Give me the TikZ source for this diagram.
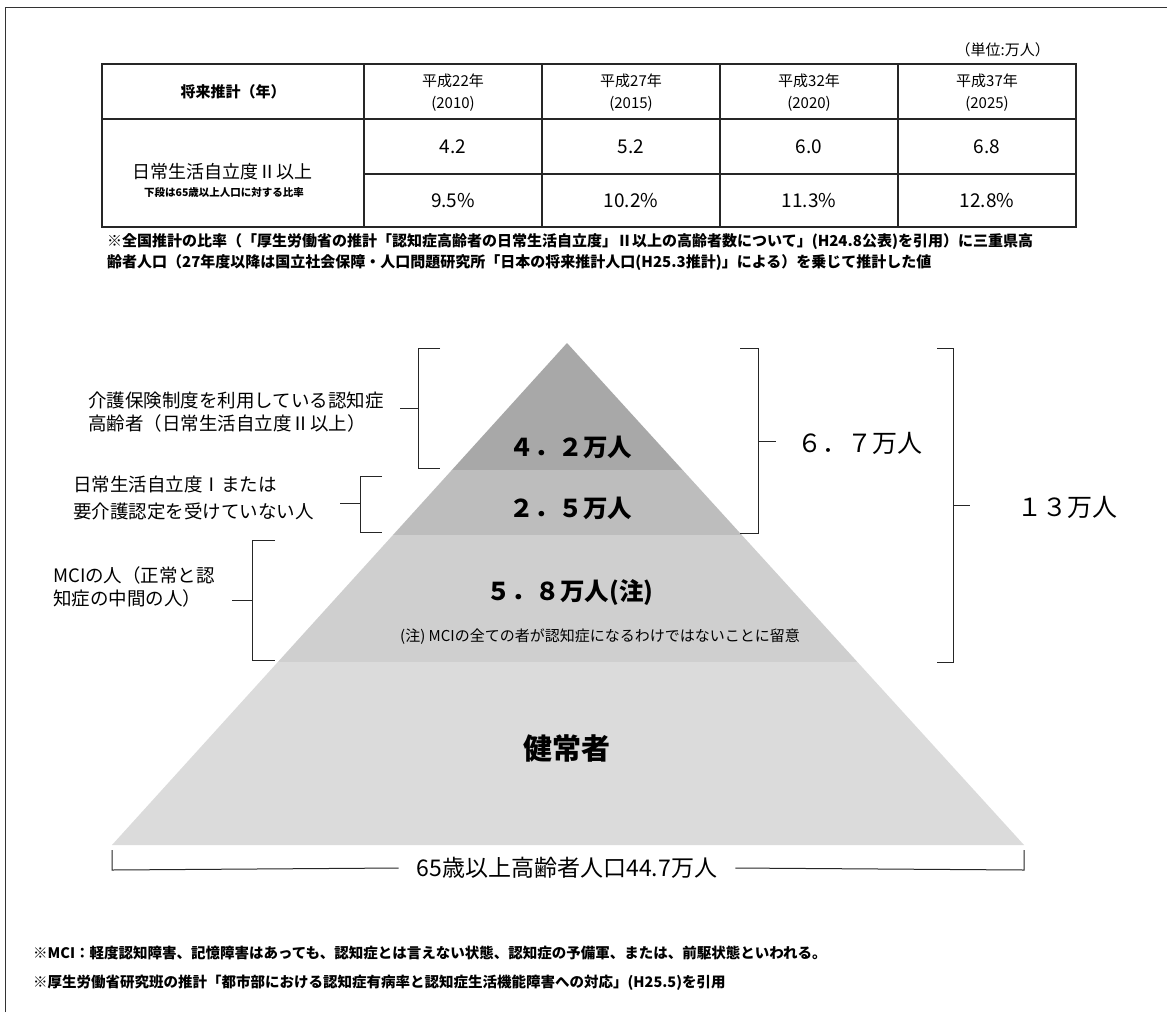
\documentclass[tikz,border=0pt]{standalone}
\usepackage{fontspec}
\setmainfont{Noto Sans CJK JP}
\usetikzlibrary{calc}
\begin{document}
\begin{tikzpicture}[x=1pt,y=-1pt,
  tline/.style={line width=1.6pt,draw=black!85},
  brk/.style={line width=1pt,draw=black!85},
  lbl/.style={inner sep=0pt,anchor=north west,align=left,font=\fontsize{18.5}{23}\selectfont},
  cell/.style={inner sep=0pt,align=center,font=\fontsize{15}{22}\selectfont},
  num/.style={inner sep=0pt,font=\fontsize{19}{22}\selectfont},
  big/.style={inner sep=0pt,font=\bfseries\fontsize{24.5}{28}\selectfont},
  side/.style={inner sep=0pt,anchor=west,font=\fontsize{25}{28}\selectfont},
  fnote/.style={inner sep=0pt,anchor=west,font=\bfseries\fontsize{15}{16}\selectfont},
  note/.style={inner sep=0pt,anchor=west,font=\bfseries\fontsize{14.5}{16}\selectfont},
  band1/.style={fill=black!34},
  band2/.style={fill=black!26},
  band3/.style={fill=black!19},
  band4/.style={fill=black!14}]
\useasboundingbox (0,0) rectangle (1167,1012);
\fill[white] (0,0) rectangle (1167,1012);
% page frame
\draw[line width=1pt,black!80] (5,1012) -- (5,7) -- (1167,7);

% ---------- table ----------
\node[cell,anchor=east] (unit) at (1050,50) {（単位:万人）};
\draw[tline] (102,64) rectangle (1076,227);
\draw[tline] (102,119) -- (1076,119);
\draw[tline] (364,174) -- (1076,174);
\foreach \x in {364,542,720,898} \draw[tline] (\x,64) -- (\x,227);

\node[cell,font=\bfseries\fontsize{15}{22}\selectfont] (h0) at (233,92) {将来推計（年）};
\node[cell] (h1) at (453,93) {平成22年\\(2010)};
\node[cell] (h2) at (631,93) {平成27年\\(2015)};
\node[cell] (h3) at (809,93) {平成32年\\(2020)};
\node[cell] (h4) at (987,93) {平成37年\\(2025)};

\node[inner sep=0pt,font=\fontsize{18}{20}\selectfont] (r0) at (222,172) {日常生活自立度Ⅱ以上};
\node[inner sep=0pt,font=\bfseries\fontsize{10.5}{12}\selectfont] (r0s) at (224,193) {下段は65歳以上人口に対する比率};

\node[num] (a1) at (453,147) {4.2};
\node[num] (a2) at (631,147) {5.2};
\node[num] (a3) at (809,147) {6.0};
\node[num] (a4) at (987,147) {6.8};
\node[num] (b1) at (453,201) {9.5\%};
\node[num] (b2) at (631,201) {10.2\%};
\node[num] (b3) at (809,201) {11.3\%};
\node[num] (b4) at (987,201) {12.8\%};

\node[fnote] (fn1) at (107,242) {※全国推計の比率（「厚生労働省の推計「認知症高齢者の日常生活自立度」Ⅱ以上の高齢者数について」(H24.8公表)を引用）に三重県高};
\node[fnote] (fn2) at (107,263) {齢者人口（27年度以降は国立社会保障・人口問題研究所「日本の将来推計人口(H25.3推計)」による）を乗じて推計した値};

% ---------- pyramid ----------
\coordinate (apex) at (567,343);
\coordinate (bl) at (112,845);
\coordinate (br) at (1024,845);
\coordinate (l1) at ($(apex)!0.253!(bl)$);
\coordinate (r1) at ($(apex)!0.253!(br)$);
\coordinate (l2) at ($(apex)!0.3825!(bl)$);
\coordinate (r2) at ($(apex)!0.3825!(br)$);
\coordinate (l3) at ($(apex)!0.6355!(bl)$);
\coordinate (r3) at ($(apex)!0.6355!(br)$);
\fill[band1] (apex) -- (r1) -- (l1) -- cycle;
\fill[band2] (l1) -- (r1) -- (r2) -- (l2) -- cycle;
\fill[band3] (l2) -- (r2) -- (r3) -- (l3) -- cycle;
\fill[band4] (l3) -- (r3) -- (br) -- (bl) -- cycle;

\node[big] (p1) at (571,447) {４．２万人};
\node[big] (p2) at (571,508) {２．５万人};
\node[big] (p3) at (570,593) {５．８万人(注)};
\node[inner sep=0pt,font=\fontsize{15}{18}\selectfont] (p3n) at (600,637) {(注) MCIの全ての者が認知症になるわけではないことに留意};
\node[inner sep=0pt,font=\bfseries\fontsize{29}{32}\selectfont] (p4) at (567,748) {健常者};

% ---------- left brackets and labels ----------
\node[lbl] (L1) at (88,392) {介護保険制度を利用している認知症\\高齢者（日常生活自立度Ⅱ以上）};
\node[lbl,font=\fontsize{18.5}{27}\selectfont] (L2) at (73,476) {日常生活自立度Ⅰまたは\\要介護認定を受けていない人};
\node[lbl] (L3) at (53,566) {MCIの人（正常と認\\知症の中間の人）};

\coordinate (k1) at (418,408);
\coordinate (k2) at (360,503);
\coordinate (k3) at (252,600);
\draw[brk] (440,348) -- (418,348) -- (418,468) -- (440,468);
\draw[brk] (k1) -- (400,408);
\draw[brk] (382,476) -- (360,476) -- (360,532) -- (382,532);
\draw[brk] (k2) -- (340,503);
\draw[brk] (275,540) -- (252,540) -- (252,660) -- (275,660);
\draw[brk] (k3) -- (232,600);

% ---------- right brackets ----------
\node[side] (R1) at (797,443) {６．７万人};
\node[side] (R2) at (1017,507) {１３万人};
\coordinate (m1) at (758,441);
\coordinate (m2) at (953,505);
\draw[brk] (740,348) -- (758,348) -- (758,533) -- (740,533);
\draw[brk] (m1) -- (776,441);
\draw[brk] (937,348) -- (953,348) -- (953,662) -- (937,662);
\draw[brk] (m2) -- (970,505);

% ---------- base bracket ----------
\node[inner sep=0pt,font=\fontsize{23}{26}\selectfont] (base) at (567,868) {65歳以上高齢者人口44.7万人};
\draw[brk] ([xshift=-18pt]base.west) -- (112,870) -- (112,850);
\draw[brk] ([xshift=18pt]base.east) -- (1024,870) -- (1024,850);

% ---------- notes ----------
\node[note] (n1) at (33,953) {※MCI：軽度認知障害、記憶障害はあっても、認知症とは言えない状態、認知症の予備軍、または、前駆状態といわれる。};
\node[note] (n2) at (33,983) {※厚生労働省研究班の推計「都市部における認知症有病率と認知症生活機能障害への対応」(H25.5)を引用};
\end{tikzpicture}
\end{document}
